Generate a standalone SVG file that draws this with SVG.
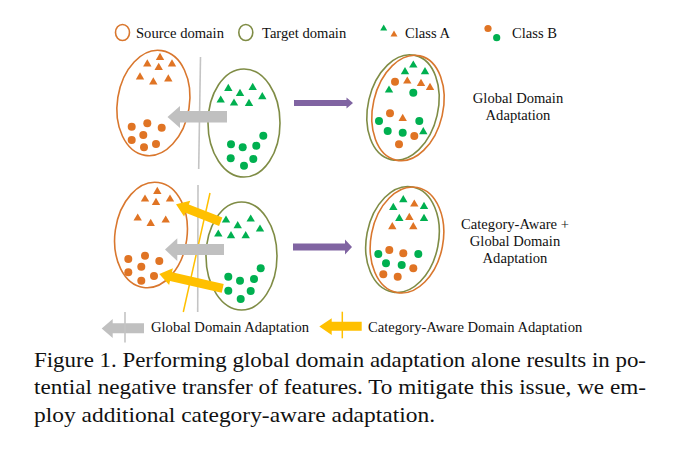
<svg xmlns="http://www.w3.org/2000/svg" xmlns:xlink="http://www.w3.org/1999/xlink" width="684" height="455" viewBox="0 0 684 455">
  <style>
    text { font-family: "Liberation Serif", "Times New Roman", serif; fill: #111; }
    .lbl { font-size: 14.6px; }
    .cap { font-size: 22px; }
    .src { fill: none; stroke: #d9772e; stroke-width: 1.6; }
    .tgt { fill: none; stroke: #7f8c45; stroke-width: 1.6; }
    .to { fill: #e07424; }
    .tg { fill: #00b050; }
    .gray { fill: #c0c0c0; }
    .yel { fill: #ffc000; }
    .pur { fill: #8064a2; }
    .gline { stroke: #c4c4c4; stroke-width: 1.6; }
    .yline { stroke: #ffc000; stroke-width: 1.5; }
  </style>
  <defs>
    <path id="tri" d="M0,-4.2 L4.2,3 L-4.2,3 Z"/>
    <path id="trismall" d="M0,-3.5 L3.5,2.5 L-3.5,2.5 Z"/>
  </defs>

  <!-- Legend -->
  <g id="legend">
    <ellipse class="src" cx="122.5" cy="32.5" rx="7" ry="8"/>
    <text class="lbl" x="136" y="37.5">Source domain</text>
    <ellipse class="tgt" cx="245.8" cy="32.5" rx="7" ry="8"/>
    <text class="lbl" x="262" y="37.5">Target domain</text>
    <use href="#trismall" class="tg" x="383.7" y="28"/>
    <use href="#trismall" class="to" x="394" y="34"/>
    <text class="lbl" x="405" y="37.5">Class A</text>
    <circle class="to" cx="488" cy="28.5" r="3.6"/>
    <circle class="tg" cx="496.7" cy="37.7" r="3.6"/>
    <text class="lbl" x="512" y="37.5">Class B</text>
  </g>

  <!-- Top row -->
  <g id="top-source">
    <ellipse class="src" cx="153.4" cy="103" rx="36" ry="53" transform="rotate(9 153.4 103)"/>
    <use href="#tri" class="to" x="160" y="57"/>
    <use href="#tri" class="to" x="147.3" y="63.5"/>
    <use href="#tri" class="to" x="158.7" y="67"/>
    <use href="#tri" class="to" x="172" y="63.5"/>
    <use href="#tri" class="to" x="140" y="76.5"/>
    <use href="#tri" class="to" x="153.3" y="81.5"/>
    <use href="#tri" class="to" x="168.3" y="78.5"/>
    <circle class="to" cx="131.7" cy="126.7" r="4"/>
    <circle class="to" cx="147.3" cy="123.3" r="4"/>
    <circle class="to" cx="161.7" cy="127.7" r="4"/>
    <circle class="to" cx="131.7" cy="140" r="4"/>
    <circle class="to" cx="143.3" cy="135" r="4"/>
    <circle class="to" cx="144" cy="147.3" r="4"/>
    <circle class="to" cx="156" cy="144" r="4"/>
  </g>
  <g id="top-target">
    <ellipse class="tgt" cx="244" cy="123" rx="36" ry="54"/>
    <use href="#tri" class="tg" x="228.3" y="88"/>
    <use href="#tri" class="tg" x="240" y="93"/>
    <use href="#tri" class="tg" x="252.7" y="87"/>
    <use href="#tri" class="tg" x="262.3" y="96.3"/>
    <use href="#tri" class="tg" x="220.7" y="99.6"/>
    <use href="#tri" class="tg" x="234" y="102.6"/>
    <use href="#tri" class="tg" x="249" y="103"/>
    <circle class="tg" cx="263.3" cy="135.7" r="4"/>
    <circle class="tg" cx="231" cy="144.3" r="4"/>
    <circle class="tg" cx="242.7" cy="147.3" r="4"/>
    <circle class="tg" cx="256.3" cy="145.7" r="4"/>
    <circle class="tg" cx="230.7" cy="158.3" r="4"/>
    <circle class="tg" cx="253.3" cy="159" r="4"/>
    <circle class="tg" cx="244" cy="165.7" r="4"/>
  </g>
  <g id="top-merged">
    <ellipse class="tgt" cx="403" cy="107.5" rx="35" ry="53.5" transform="rotate(13 403 107.5)"/>
    <ellipse class="src" cx="408" cy="108" rx="35" ry="53.5" transform="rotate(13 408 108)"/>
    <use href="#tri" class="tg" x="413.3" y="64.6"/>
    <use href="#tri" class="tg" x="405" y="71.3"/>
    <use href="#tri" class="tg" x="425" y="71.3"/>
    <use href="#tri" class="tg" x="389" y="89.6"/>
    <use href="#tri" class="tg" x="423.3" y="131.3"/>
    <use href="#tri" class="to" x="407.3" y="80.6"/>
    <use href="#tri" class="to" x="421" y="83"/>
    <use href="#tri" class="to" x="430" y="87"/>
    <use href="#tri" class="to" x="402.7" y="118"/>
    <circle class="to" cx="395" cy="81.7" r="4"/>
    <circle class="to" cx="390" cy="113.3" r="4"/>
    <circle class="to" cx="414.3" cy="136" r="4"/>
    <circle class="to" cx="399" cy="144.3" r="4"/>
    <circle class="tg" cx="413.3" cy="92.7" r="4"/>
    <circle class="tg" cx="379" cy="121" r="4"/>
    <circle class="tg" cx="419.3" cy="121" r="4"/>
    <circle class="tg" cx="387.7" cy="131" r="4"/>
    <circle class="tg" cx="402.7" cy="132.7" r="4"/>
  </g>
  <g id="top-label">
    <text class="lbl" x="518" y="102.5" text-anchor="middle">Global Domain</text>
    <text class="lbl" x="518" y="120" text-anchor="middle">Adaptation</text>
  </g>

  <!-- Bottom row -->
  <g id="bottom-source">
    <ellipse class="src" cx="151" cy="235" rx="36" ry="53" transform="rotate(8 151 235)"/>
    <use href="#tri" class="to" x="157.3" y="191"/>
    <use href="#tri" class="to" x="145" y="198.6"/>
    <use href="#tri" class="to" x="156" y="202"/>
    <use href="#tri" class="to" x="170" y="198.6"/>
    <use href="#tri" class="to" x="137.7" y="217.6"/>
    <use href="#tri" class="to" x="150.7" y="223"/>
    <use href="#tri" class="to" x="165.7" y="219.6"/>
    <circle class="to" cx="128.3" cy="259" r="4"/>
    <circle class="to" cx="145" cy="255.7" r="4"/>
    <circle class="to" cx="159.3" cy="261" r="4"/>
    <circle class="to" cx="128.3" cy="272.3" r="4"/>
    <circle class="to" cx="141.3" cy="266.7" r="4"/>
    <circle class="to" cx="141.3" cy="280.7" r="4"/>
    <circle class="to" cx="154" cy="276" r="4"/>
  </g>
  <g id="bottom-target">
    <ellipse class="tgt" cx="241.5" cy="256" rx="35.5" ry="54"/>
    <use href="#tri" class="tg" x="226" y="219.6"/>
    <use href="#tri" class="tg" x="237.7" y="225.3"/>
    <use href="#tri" class="tg" x="250.7" y="218.6"/>
    <use href="#tri" class="tg" x="260" y="228.6"/>
    <use href="#tri" class="tg" x="218.3" y="233.6"/>
    <use href="#tri" class="tg" x="231" y="235.3"/>
    <use href="#tri" class="tg" x="245.7" y="235.3"/>
    <circle class="tg" cx="260.7" cy="268.3" r="4"/>
    <circle class="tg" cx="228.3" cy="276.7" r="4"/>
    <circle class="tg" cx="240" cy="280.7" r="4"/>
    <circle class="tg" cx="254" cy="279" r="4"/>
    <circle class="tg" cx="228.3" cy="290.7" r="4"/>
    <circle class="tg" cx="250.7" cy="291" r="4"/>
    <circle class="tg" cx="240.7" cy="299" r="4"/>
  </g>
  <g id="bottom-merged">
    <ellipse class="tgt" cx="402.5" cy="239.5" rx="36" ry="53.5" transform="rotate(11 402.5 239.5)"/>
    <ellipse class="src" cx="407" cy="240" rx="36" ry="53.5" transform="rotate(11 407 240)"/>
    <use href="#tri" class="tg" x="403.3" y="199.3"/>
    <use href="#tri" class="tg" x="393.3" y="207"/>
    <use href="#tri" class="tg" x="424" y="206"/>
    <use href="#tri" class="tg" x="399.3" y="218"/>
    <use href="#tri" class="tg" x="424" y="218"/>
    <use href="#tri" class="to" x="414.3" y="203.6"/>
    <use href="#tri" class="to" x="409.3" y="217"/>
    <use href="#tri" class="to" x="392.3" y="226.3"/>
    <use href="#tri" class="to" x="413.3" y="226.3"/>
    <circle class="tg" cx="378.3" cy="254" r="4"/>
    <circle class="tg" cx="418.3" cy="254" r="4"/>
    <circle class="tg" cx="386" cy="263.3" r="4"/>
    <circle class="tg" cx="401.7" cy="265" r="4"/>
    <circle class="to" cx="389.3" cy="250" r="4"/>
    <circle class="to" cx="403.3" cy="253.3" r="4"/>
    <circle class="to" cx="413.3" cy="268.3" r="4"/>
    <circle class="to" cx="383.3" cy="274.3" r="4"/>
    <circle class="to" cx="397.7" cy="276.7" r="4"/>
  </g>
  <g id="bottom-label">
    <text class="lbl" x="515" y="228.5" text-anchor="middle">Category-Aware +</text>
    <text class="lbl" x="515" y="245.7" text-anchor="middle">Global Domain</text>
    <text class="lbl" x="515" y="262.5" text-anchor="middle">Adaptation</text>
  </g>

  <!-- Connectors -->
  <g id="connectors">
    <line class="gline" x1="200.5" y1="57" x2="198.7" y2="169"/>
    <polygon class="gray" points="227,111 180,111 180,106 167.5,117 180,128 180,122.5 227,122.5"/>
    <polygon class="pur" points="294,100 346.5,100 346.5,97.5 353,103 346.5,108.5 346.5,106 294,106"/>

    <line class="gline" x1="198" y1="185" x2="197.7" y2="312"/>
    <line class="yline" x1="210" y1="193" x2="183.3" y2="312"/>
    <polygon class="gray" points="224,244 177.3,244 177.3,238.3 165,249.6 177.3,261 177.3,255 224,255"/>
    <polygon class="yel" transform="translate(176,204.3) rotate(21.3)" points="0,0 12,-8.5 12,-4.5 48,-4.5 48,4.5 12,4.5 12,8.5"/>
    <polygon class="yel" transform="translate(159.3,274) rotate(12.7)" points="0,0 12,-8.5 12,-4.5 65,-4.5 65,4.5 12,4.5 12,8.5"/>
    <polygon class="pur" points="293,243.5 345,243.5 345,239.5 352,247 345,254.5 345,250.5 293,250.5"/>
  </g>

  <!-- Bottom legend -->
  <g id="arrow-legend">
    <polygon class="gray" points="144,323.3 112.7,323.3 112.7,319 101.7,328.5 112.7,338 112.7,333.3 144,333.3"/>
    <line class="gline" x1="125" y1="312" x2="125" y2="342.5"/>
    <text class="lbl" x="151" y="332">Global Domain Adaptation</text>
    <polygon class="yel" points="361.7,321.7 331.7,321.7 331.7,318.3 319.3,326.5 331.7,335 331.7,330.7 361.7,330.7"/>
    <line class="yline" x1="342.3" y1="311.7" x2="342.3" y2="338.3"/>
    <text class="lbl" x="368" y="332">Category-Aware Domain Adaptation</text>
  </g>

  <!-- Caption -->
  <g id="caption">
    <text class="cap" x="34" y="366.5" textLength="612" lengthAdjust="spacingAndGlyphs">Figure 1. Performing global domain adaptation alone results in po-</text>
    <text class="cap" x="34" y="394" textLength="612" lengthAdjust="spacingAndGlyphs">tential negative transfer of features. To mitigate this issue, we em-</text>
    <text class="cap" x="34" y="421.5" textLength="401" lengthAdjust="spacingAndGlyphs">ploy additional category-aware adaptation.</text>
  </g>
</svg>
